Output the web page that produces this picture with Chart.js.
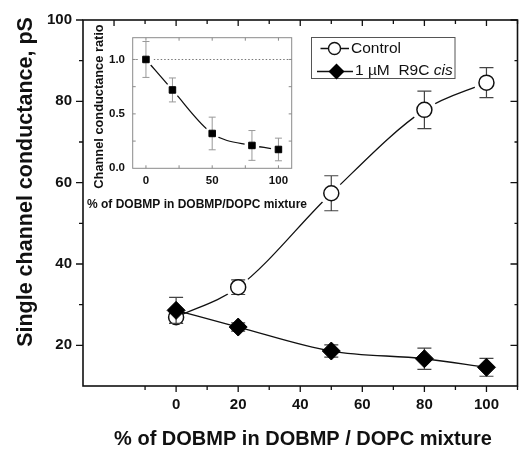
<!DOCTYPE html>
<html>
<head>
<meta charset="utf-8">
<script src="https://cdn.jsdelivr.net/npm/chart.js@4"></script>
<style>
  html, body { margin: 0; padding: 0; background: #fff; overflow: hidden; }
  #wrap { position: relative; width: 520px; height: 449px; overflow: hidden; }
  #main { position: absolute; left: 0; top: 0; }
  #inset { position: absolute; left: 86px; top: 20px; }
</style>
</head>
<body>
<div id="wrap">
  <canvas id="main" width="530" height="449"></canvas>
  <canvas id="inset" width="226" height="200"></canvas>
</div>
<script>
// % of DOBMP in DOBMP / DOPC mixture
const pct = [0, 20, 50, 80, 100];

// single channel conductance, pS
const control    = [26.9, 34.3, 57.4, 77.9, 84.6];
const controlErr = [1.5, 1.8, 4.3, 4.6, 3.7];
const r9c        = [28.6, 24.5, 18.6, 16.7, 14.6];
const r9cErr     = [3.2, 1.0, 1.5, 2.6, 2.2];

// inset: channel conductance ratio
const ratio    = [1.0, 0.72, 0.32, 0.21, 0.173];
const ratioErr = [0.165, 0.11, 0.15, 0.137, 0.104];

const xTickLabels = [0, 20, 40, 60, 80, 100];
const yTickLabels = [20, 40, 60, 80, 100];
const insetXLabels = [0, 50, 100];
const insetYLabels = [0, 0.5, 1.0];

const FONT = '"Liberation Sans", Arial, Helvetica, sans-serif';
const pts = ys => pct.map((x, i) => ({ x, y: ys[i] }));

// vertical error bars, drawn just before the markers of a dataset
const errorBars = {
  id: 'errorBars',
  beforeDatasetDraw(chart, args) {
    const ds = chart.data.datasets[args.index];
    if (!ds.errors) return;
    const ctx = chart.ctx, y = chart.scales.y;
    ctx.save();
    ctx.strokeStyle = ds.errColor;
    ctx.lineWidth = ds.errWidth;
    ctx.beginPath();
    args.meta.data.forEach((p, i) => {
      const v = ds.data[i].y, e = ds.errors[i];
      const t = y.getPixelForValue(v + e), b = y.getPixelForValue(v - e);
      ctx.moveTo(p.x, t); ctx.lineTo(p.x, b);
      ctx.moveTo(p.x - ds.capHalf, t); ctx.lineTo(p.x + ds.capHalf, t);
      ctx.moveTo(p.x - ds.capHalf, b); ctx.lineTo(p.x + ds.capHalf, b);
    });
    ctx.stroke();
    ctx.restore();
  }
};

const mainFrame = {
  id: 'mainFrame',
  afterDraw(chart) {
    const { ctx, chartArea: a, scales: { x, y } } = chart;
    ctx.save();
    ctx.strokeStyle = '#111';
    ctx.lineWidth = 1.6;
    ctx.strokeRect(a.left, a.top, a.right - a.left, a.bottom - a.top);

    ctx.lineWidth = 1.3;
    ctx.beginPath();
    for (let v = -20; v <= 110; v += 10) {
      const px = x.getPixelForValue(v), major = v % 20 === 0;
      if (v >= -10) { ctx.moveTo(px, a.bottom); ctx.lineTo(px, a.bottom + (major ? 6 : 4)); }
      ctx.moveTo(px, a.top); ctx.lineTo(px, a.top + (major ? 6 : 4));
    }
    for (let v = 20; v <= 100; v += 10) {
      const py = y.getPixelForValue(v), major = v % 20 === 0;
      ctx.moveTo(a.left, py); ctx.lineTo(a.left - (major ? 7 : 4), py);
      ctx.moveTo(a.right, py); ctx.lineTo(a.right - (major ? 7 : 3), py);
    }
    ctx.stroke();

    // axis titles
    ctx.fillStyle = '#111';
    ctx.font = 'bold 20px ' + FONT;
    ctx.textAlign = 'center';
    ctx.textBaseline = 'alphabetic';
    ctx.fillText('% of DOBMP in DOBMP / DOPC mixture', 303, 445);
    ctx.save();
    ctx.translate(32, 182);
    ctx.rotate(-Math.PI / 2);
    ctx.font = 'bold 21.5px ' + FONT;
    ctx.fillText('Single channel conductance, pS', 0, 0);
    ctx.restore();

    // legend
    ctx.strokeStyle = '#555';
    ctx.lineWidth = 1;
    ctx.strokeRect(311.5, 37.5, 143.5, 41);
    ctx.strokeStyle = '#111';
    ctx.lineWidth = 1.3;
    ctx.beginPath();
    ctx.moveTo(320.5, 48.5); ctx.lineTo(328.5, 48.5);
    ctx.moveTo(340.5, 48.5); ctx.lineTo(349, 48.5);
    ctx.moveTo(317, 71.5); ctx.lineTo(353, 71.5);
    ctx.stroke();
    ctx.beginPath();
    ctx.arc(334.5, 48.5, 6, 0, Math.PI * 2);
    ctx.fillStyle = '#fff'; ctx.fill();
    ctx.lineWidth = 1.4; ctx.stroke();
    ctx.beginPath();
    ctx.moveTo(336.5, 63.5); ctx.lineTo(344.5, 71.5); ctx.lineTo(336.5, 79.5); ctx.lineTo(328.5, 71.5);
    ctx.closePath();
    ctx.fillStyle = '#000'; ctx.fill();

    ctx.fillStyle = '#111';
    ctx.textAlign = 'left';
    ctx.textBaseline = 'middle';
    ctx.font = '15.5px ' + FONT;
    ctx.fillText('Control', 351, 49);
    const part = '1 \u00b5M  R9C ';
    ctx.fillText(part, 355, 71);
    const w = ctx.measureText(part).width;
    ctx.font = 'italic 15.5px ' + FONT;
    ctx.fillText('cis', 355 + w, 71);
    ctx.restore();
  }
};

new Chart(document.getElementById('main'), {
  type: 'scatter',
  data: {
    datasets: [
      { data: pts(control), showLine: true, borderColor: '#111', borderWidth: 1.3, pointRadius: 0,
        cubicInterpolationMode: 'monotone', tension: 0.4, order: 10 },
      { data: pts(r9c), showLine: true, borderColor: '#111', borderWidth: 1.3, pointRadius: 0,
        cubicInterpolationMode: 'monotone', tension: 0.4, order: 10 },
      // white halos that open small gaps in the control curve
      { data: pts(control), pointRadius: c => c.dataIndex === 0 ? 0 : 12.5,
        pointBackgroundColor: '#fff', pointBorderWidth: 0, order: 5 },
      { data: pts(control), pointStyle: 'circle', pointRadius: 7.5, pointBorderWidth: 1.5,
        pointBackgroundColor: '#fff', pointBorderColor: '#111',
        errors: controlErr, errColor: '#444', errWidth: 1.2, capHalf: 7, order: 1 },
      { data: pts(r9c), pointStyle: 'rectRot', pointRadius: 9, pointBorderWidth: 1,
        pointBackgroundColor: '#000', pointBorderColor: '#000',
        errors: r9cErr, errColor: '#444', errWidth: 1.2, capHalf: 7, order: 0 }
    ]
  },
  options: {
    responsive: false,
    animation: false,
    events: [],
    layout: { padding: { top: 18, right: 6.5, left: 0, bottom: 0 } },
    plugins: { legend: { display: false }, tooltip: { enabled: false } },
    scales: {
      x: {
        type: 'linear', min: -30, max: 110,
        grid: { display: false, drawTicks: false }, border: { display: false },
        ticks: {
          stepSize: 10, autoSkip: false, maxRotation: 0, padding: 9.5, color: '#111',
          font: { family: FONT, size: 15, weight: 'bold' },
          callback: v => xTickLabels.includes(v) ? v : ''
        },
        afterFit: s => { s.height = 63; }
      },
      y: {
        type: 'linear', min: 10, max: 100,
        grid: { display: false, drawTicks: false }, border: { display: false },
        ticks: {
          stepSize: 10, autoSkip: false, padding: 11, color: '#111',
          font: { family: FONT, size: 15, weight: 'bold' },
          callback: v => yTickLabels.includes(v) ? v : ''
        },
        afterFit: s => { s.width = 83; }
      }
    }
  },
  plugins: [errorBars, mainFrame]
});

const insetFrame = {
  id: 'insetFrame',
  beforeDatasetsDraw(chart) {
    const { ctx, chartArea: a, scales: { y } } = chart;
    ctx.save();
    ctx.strokeStyle = '#777';
    ctx.lineWidth = 1;
    ctx.setLineDash([1.5, 2]);
    ctx.beginPath();
    const py = Math.round(y.getPixelForValue(1)) + 0.5;
    ctx.moveTo(a.left, py); ctx.lineTo(a.right, py);
    ctx.stroke();
    ctx.restore();
  },
  afterDraw(chart) {
    const { ctx, chartArea: a, scales: { x, y } } = chart;
    ctx.save();
    ctx.strokeStyle = '#8a8a8a';
    ctx.lineWidth = 1;
    ctx.strokeRect(a.left, a.top, a.right - a.left, a.bottom - a.top);
    ctx.beginPath();
    for (let v = 0; v <= 100; v += 25) {
      const px = x.getPixelForValue(v);
      ctx.moveTo(px, a.bottom); ctx.lineTo(px, a.bottom - 3);
      ctx.moveTo(px, a.top); ctx.lineTo(px, a.top + 3);
    }
    for (let v = 0.25; v <= 1.0; v += 0.25) {
      const py = y.getPixelForValue(v);
      ctx.moveTo(a.left, py); ctx.lineTo(a.left + 3, py);
      ctx.moveTo(a.right, py); ctx.lineTo(a.right - 3, py);
    }
    ctx.stroke();

    ctx.fillStyle = '#111';
    ctx.textAlign = 'center';
    ctx.textBaseline = 'alphabetic';
    ctx.font = 'bold 12px ' + FONT;
    ctx.fillText('% of DOBMP in DOBMP/DOPC mixture', 111, 187.5);
    ctx.save();
    ctx.translate(17, 86.5);
    ctx.rotate(-Math.PI / 2);
    ctx.font = 'bold 12.8px ' + FONT;
    ctx.fillText('Channel conductance ratio', 0, 0);
    ctx.restore();
    ctx.restore();
  }
};

new Chart(document.getElementById('inset'), {
  type: 'scatter',
  data: {
    datasets: [
      { data: pts(ratio), showLine: true, borderColor: '#111', borderWidth: 1.3, pointRadius: 0,
        cubicInterpolationMode: 'monotone', tension: 0.4, order: 10 },
      { data: pts(ratio), pointRadius: 7.5, pointBackgroundColor: '#fff', pointBorderWidth: 0, order: 5 },
      { data: pts(ratio), pointStyle: 'rect', pointRadius: 4.6, pointBorderWidth: 1,
        pointBackgroundColor: '#000', pointBorderColor: '#000',
        errors: ratioErr, errColor: '#999', errWidth: 1, capHalf: 3.5, order: 0 }
    ]
  },
  options: {
    responsive: false,
    animation: false,
    events: [],
    layout: { padding: { top: 17.7, right: 20.3, left: 0, bottom: 0 } },
    plugins: { legend: { display: false }, tooltip: { enabled: false } },
    scales: {
      x: {
        type: 'linear', min: -10, max: 110,
        grid: { display: false, drawTicks: false }, border: { display: false },
        ticks: {
          stepSize: 10, autoSkip: false, maxRotation: 0, padding: 5.8, color: '#111',
          font: { family: FONT, size: 11.5, weight: 'bold' },
          callback: v => insetXLabels.includes(v) ? v : ''
        },
        afterFit: s => { s.height = 51.7; }
      },
      y: {
        type: 'linear', min: 0, max: 1.2,
        grid: { display: false, drawTicks: false }, border: { display: false },
        ticks: {
          stepSize: 0.25, autoSkip: false, padding: 7.7, color: '#111',
          font: { family: FONT, size: 11.5, weight: 'bold' },
          callback: v => insetYLabels.some(t => Math.abs(t - v) < 1e-9) ? v.toFixed(1) : ''
        },
        afterFit: s => { s.width = 46.7; }
      }
    }
  },
  plugins: [errorBars, insetFrame]
});
</script>
</body>
</html>
